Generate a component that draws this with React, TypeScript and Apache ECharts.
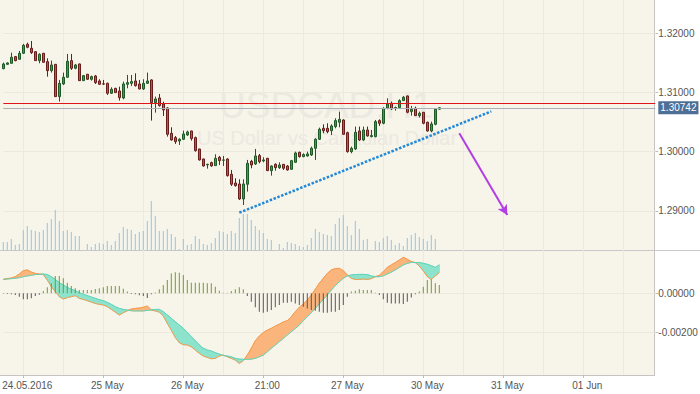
import React, { useEffect, useRef } from "react";
import * as echarts from "echarts";

// ---- data ----
const opens = [
  1.31403, 1.31476, 1.31493, 1.31606, 1.31561, 1.31662, 1.31814, 1.31747, 1.3169, 1.31538,
  1.31662, 1.31521, 1.31369, 1.31476, 1.3093, 1.31144, 1.31257, 1.31538, 1.31409, 1.31482,
  1.312, 1.31308, 1.31223, 1.31279, 1.31195, 1.31146, 1.31155, 1.30987, 1.31071, 1.31026,
  1.30907, 1.31139, 1.31155, 1.31195, 1.31144, 1.3106, 1.31155, 1.31212, 1.30829, 1.30908,
  1.30806, 1.30739, 1.30311, 1.30238, 1.30181, 1.3021, 1.30283, 1.3035, 1.30238, 1.30046,
  1.29878, 1.29778, 1.29816, 1.29765, 1.29906, 1.29855, 1.29877, 1.29619, 1.29472, 1.29455,
  1.29202, 1.2945, 1.29838, 1.29793, 1.29934, 1.29844, 1.29889, 1.2968, 1.29787, 1.29731,
  1.29787, 1.29759, 1.29703, 1.29821, 1.2999, 1.29917, 1.29928, 1.29945, 1.30058, 1.3021,
  1.30395, 1.30395, 1.30356, 1.30424, 1.30497, 1.30536, 1.30322, 1.30001, 1.30046, 1.3035,
  1.30198, 1.30367, 1.30255, 1.30255, 1.30525, 1.3048, 1.30733, 1.30818, 1.30733, 1.30745,
  1.30863, 1.30942, 1.30677, 1.30733, 1.30609, 1.30666, 1.30497, 1.3035, 1.30463, 1.30718,
];
const closes = [
  1.31482, 1.31499, 1.31595, 1.31538, 1.31662, 1.31797, 1.31764, 1.31673, 1.31538, 1.31645,
  1.3151, 1.31369, 1.31465, 1.3093, 1.31155, 1.31257, 1.31527, 1.31409, 1.31465, 1.312,
  1.31285, 1.31223, 1.31268, 1.31167, 1.31139, 1.31142, 1.30987, 1.31054, 1.30998, 1.30913,
  1.31144, 1.31167, 1.31184, 1.31116, 1.3106, 1.31155, 1.31195, 1.30829, 1.30891, 1.30778,
  1.30705, 1.30294, 1.30198, 1.3017, 1.3021, 1.303, 1.30334, 1.30221, 1.30018, 1.29861,
  1.29759, 1.29788, 1.29759, 1.29889, 1.29849, 1.29861, 1.29596, 1.2945, 1.29427, 1.29202,
  1.29455, 1.29804, 1.29776, 1.29928, 1.29832, 1.29861, 1.2968, 1.29759, 1.29731, 1.29776,
  1.2972, 1.29692, 1.29849, 1.29979, 1.29917, 1.29951, 1.29962, 1.30058, 1.3021, 1.30379,
  1.30356, 1.30339, 1.30435, 1.30525, 1.30547, 1.30294, 1.30001, 1.30058, 1.30328, 1.30198,
  1.30367, 1.30266, 1.30272, 1.30508, 1.3048, 1.30733, 1.30806, 1.30722, 1.30745, 1.30863,
  1.30919, 1.30666, 1.30716, 1.30609, 1.30649, 1.3048, 1.3035, 1.30469, 1.30716, 1.30742,
];
const lows = [
  1.31392, 1.31465, 1.3149, 1.31527, 1.31555, 1.31651, 1.31747, 1.31651, 1.31532, 1.31493,
  1.31505, 1.31268, 1.31336, 1.30925, 1.30846, 1.31127, 1.31252, 1.31381, 1.31392, 1.31195,
  1.31195, 1.31212, 1.312, 1.31144, 1.31127, 1.31127, 1.30958, 1.30975, 1.30992, 1.30863,
  1.30885, 1.31071, 1.3111, 1.31099, 1.31055, 1.31043, 1.31144, 1.30525, 1.3066, 1.30761,
  1.30604, 1.30255, 1.30187, 1.30131, 1.30114, 1.30198, 1.30266, 1.30187, 1.30001, 1.2985,
  1.29748, 1.29714, 1.29748, 1.29759, 1.29776, 1.29759, 1.29579, 1.29421, 1.2941, 1.29185,
  1.291, 1.29326, 1.2972, 1.29776, 1.29804, 1.29821, 1.29675, 1.29596, 1.2968, 1.29709,
  1.29692, 1.2968, 1.29692, 1.29815, 1.299, 1.29906, 1.29917, 1.29928, 1.29861, 1.30198,
  1.30311, 1.30311, 1.30283, 1.30395, 1.30412, 1.30283, 1.29984, 1.29973, 1.30029, 1.30182,
  1.30182, 1.30255, 1.30243, 1.30243, 1.30435, 1.30463, 1.30716, 1.30705, 1.30694, 1.30733,
  1.30858, 1.30649, 1.30609, 1.30603, 1.30576, 1.30463, 1.30339, 1.30328, 1.30446, 1.30712,
];
const highs = [
  1.31505, 1.3151, 1.31673, 1.31617, 1.31702, 1.3182, 1.31842, 1.3187, 1.31695, 1.31662,
  1.31668, 1.31578, 1.31538, 1.3148, 1.31212, 1.31336, 1.31651, 1.31651, 1.31482, 1.31487,
  1.31296, 1.31313, 1.31285, 1.31296, 1.31223, 1.31212, 1.31167, 1.31088, 1.31077, 1.31099,
  1.31184, 1.31296, 1.31296, 1.31324, 1.31212, 1.31223, 1.31336, 1.31223, 1.3093, 1.30975,
  1.30846, 1.3075, 1.30412, 1.30266, 1.30227, 1.30356, 1.30356, 1.30356, 1.30255, 1.3005,
  1.29881, 1.29795, 1.29833, 1.29956, 1.29928, 1.29928, 1.29889, 1.29692, 1.29551, 1.29534,
  1.29534, 1.29861, 1.29861, 1.30046, 1.29962, 1.29906, 1.29894, 1.2977, 1.29804, 1.29821,
  1.29793, 1.29776, 1.29861, 1.30001, 1.30001, 1.29973, 1.30001, 1.30086, 1.30227, 1.30407,
  1.30463, 1.3048, 1.30463, 1.30564, 1.30677, 1.30547, 1.30339, 1.30086, 1.30424, 1.30424,
  1.30424, 1.30424, 1.30367, 1.30536, 1.30547, 1.3075, 1.30902, 1.30846, 1.30761, 1.30885,
  1.30942, 1.30947, 1.30773, 1.30761, 1.30677, 1.30671, 1.30508, 1.30508, 1.30733, 1.30752,
];
const volumes = [
  8, 8, 11, 5, 6, 20, 24, 20, 19, 18,
  20, 27, 31, 40, 29, 19, 20, 18, 14, 14,
  0, 6, 3, 6, 7, 6, 9, 5, 9, 17,
  23, 21, 20, 16, 18, 19, 29, 49, 34, 19,
  19, 21, 16, 13, 1, 11, 5, 6, 14, 11,
  6, 5, 7, 12, 19, 18, 16, 19, 17, 32,
  36, 36, 30, 24, 20, 17, 11, 10, 0, 6,
  2, 8, 7, 6, 4, 3, 5, 12, 21, 18,
  16, 15, 14, 26, 32, 35, 24, 15, 29, 21,
  10, 11, 0, 9, 8, 12, 14, 10, 5, 7,
  4, 12, 15, 17, 13, 11, 9, 15, 11, 0,
];
const histogram = [
  -0.00002, -0.00003, -0.00005, -0.00009, -0.00017, -0.00031, -0.00031, -0.00026, -0.00014, -0.00007,
  0.00012, 0.00031, 0.00052, 0.0009, 0.0009, 0.00078, 0.00055, 0.00038, 0.00026, 0.00017,
  0.00017, 0.00017, 0.00017, 0.00022, 0.00026, 0.00031, 0.00038, 0.00038, 0.00038, 0.00038,
  0.00024, 0.00009, -0.00003, -0.00005, -0.0001, -0.00014, -0.00024, -0.00005, 0.00005, 0.00021,
  0.00043, 0.00069, 0.00103, 0.00109, 0.00107, 0.00095, 0.00069, 0.00055, 0.00055, 0.00055,
  0.00055, 0.00052, 0.00052, 0.00034, 0.00014, 0.00003, 0.00003, 0.00012, 0.00021, 0.00031,
  0.00021, -0.00014, -0.00043, -0.00072, -0.00095, -0.001, -0.00095, -0.00086, -0.00072, -0.0006,
  -0.00048, -0.00048, -0.00043, -0.00052, -0.0006, -0.00069, -0.00078, -0.00086, -0.0009, -0.00095,
  -0.001, -0.001, -0.00095, -0.00095, -0.00086, -0.0006, -0.00017, 0.00009, 0.00014, 0.00021,
  0.00017, 0.00017, 0.00017, 0.00003, -0.00009, -0.00031, -0.00048, -0.00052, -0.00052, -0.00052,
  -0.00055, -0.00043, -0.00021, -0.00005, 0.00009, 0.00034, 0.00069, 0.00072, 0.00052, 0.00043,
];
const fastLine = [
  0.00072, 0.00076, 0.00079, 0.00086, 0.001, 0.00117, 0.00121, 0.0011, 0.00103, 0.001,
  0.00097, 0.00069, 0.00035, 0.00009, -0.00017, -0.00029, -0.00022, -0.00017, -0.00012, -0.00026,
  -0.00031, -0.00038, -0.00045, -0.00052, -0.00057, -0.0006, -0.00069, -0.00083, -0.00097, -0.00112,
  -0.001, -0.0009, -0.00081, -0.00078, -0.00076, -0.00072, -0.00066, -0.00086, -0.00091, -0.00097,
  -0.00117, -0.00155, -0.0019, -0.00228, -0.00255, -0.00265, -0.00267, -0.00276, -0.00293, -0.0031,
  -0.00324, -0.00331, -0.00338, -0.00336, -0.00324, -0.00319, -0.00328, -0.00336, -0.00345, -0.00362,
  -0.00348, -0.00319, -0.00284, -0.00245, -0.00221, -0.00203, -0.0019, -0.00181, -0.00169, -0.00159,
  -0.00148, -0.00141, -0.00121, -0.00095, -0.00072, -0.00055, -0.00035, -0.00009, 0.00021, 0.00052,
  0.00078, 0.00103, 0.00121, 0.00128, 0.00129, 0.00117, 0.00095, 0.00078, 0.00072, 0.00072,
  0.00074, 0.00072, 0.00076, 0.00086, 0.00093, 0.00112, 0.00134, 0.00147, 0.00159, 0.00172,
  0.00186, 0.00176, 0.00164, 0.00159, 0.00141, 0.00117, 0.00086, 0.00072, 0.0009, 0.00107,
];
const slowLine = [
  0.00072, 0.00074, 0.00076, 0.00078, 0.00081, 0.00086, 0.0009, 0.00093, 0.00097, 0.00098,
  0.001, 0.00097, 0.00086, 0.00072, 0.00055, 0.00043, 0.00031, 0.00021, 0.00014, 0.00003,
  -0.00005, -0.00012, -0.00019, -0.00026, -0.00033, -0.00038, -0.00047, -0.00057, -0.00069, -0.00078,
  -0.00083, -0.00086, -0.0009, -0.00091, -0.00091, -0.00091, -0.00088, -0.00086, -0.00083, -0.00083,
  -0.00095, -0.00112, -0.00129, -0.00147, -0.00164, -0.00181, -0.00203, -0.00224, -0.00245, -0.00267,
  -0.00284, -0.00293, -0.00298, -0.00307, -0.00314, -0.00321, -0.00324, -0.00328, -0.00336, -0.0034,
  -0.00341, -0.00341, -0.0034, -0.00336, -0.00328, -0.00319, -0.00302, -0.00284, -0.00267, -0.0025,
  -0.00233, -0.00215, -0.00198, -0.00181, -0.00164, -0.00141, -0.00121, -0.001, -0.00078, -0.00055,
  -0.00031, -0.00009, 0.00017, 0.0004, 0.0006, 0.00078, 0.0009, 0.00095, 0.00097, 0.00098,
  0.00098, 0.00097, 0.0009, 0.00086, 0.00086, 0.00091, 0.001, 0.0011, 0.00121, 0.00134,
  0.00147, 0.00155, 0.0016, 0.00159, 0.00159, 0.00155, 0.0015, 0.00143, 0.00134, 0.00147,
];
const tickIndex = [5, 25, 45, 65, 85, 105, 125, 145];
const tickLabels = ["24.05.2016", "25 May", "26 May", "21:00", "27 May", "30 May", "31 May", "01 Jun"];
const priceTicks = [1.29, 1.3, 1.31, 1.32];
const oscTicks = [0, -0.002];
const currentPrice = 1.30742;
const askPrice = 1.30825;
const trendFrom = [59, 1.2897];
const trendTo = [122, 1.30682];
const arrowFrom = [114, 1.30311];
const arrowTo = [126, 1.28931];
const SLOTS = 164;

// ---- styling ----
const FONT = "'Liberation Sans', Arial, sans-serif";
const CREAM = "#f7f4ea";
const GRIDC = "#ece9df";
const LABEL = "#555555";
const ORANGE_FILL = "#fab57c";
const TEAL_FILL = "#8de3cc";

export default function App() {
  const ref = useRef<HTMLDivElement>(null);

  useEffect(() => {
    if (!ref.current) return;
    const chart = echarts.init(ref.current, null, { renderer: "svg", width: 700, height: 394 });
    const xData = Array.from({ length: SLOTS }, (_, i) => String(i));
    const candleData = opens.map((o, i) => [o, closes[i], lows[i], highs[i]]);
    const fillData = fastLine.slice(0, -1).map((v, i) => [i, v, slowLine[i]]);
    const histData = histogram.map((v) => ({
      value: v,
      itemStyle: { color: v >= 0 ? "#6f9b2c" : "#5a5557" },
    }));

    const renderFill = (params: any, api: any) => {
      const i = api.value(0);
      const n = fastLine.length;
      if (i >= n - 1) return null;
      const a0 = api.coord([i, fastLine[i]]);
      const b0 = api.coord([i, slowLine[i]]);
      const a1 = api.coord([i + 1, fastLine[i + 1]]);
      const b1 = api.coord([i + 1, slowLine[i + 1]]);
      const d0 = fastLine[i] - slowLine[i];
      const d1 = fastLine[i + 1] - slowLine[i + 1];
      const col = (d: number) => (d >= 0 ? ORANGE_FILL : TEAL_FILL);
      const poly = (pts: number[][], c: string) => ({
        type: "polygon",
        shape: { points: pts },
        style: { fill: c, stroke: c, lineWidth: 1, lineJoin: "round" },
      });
      if (d0 * d1 < 0) {
        const t = d0 / (d0 - d1);
        const m = [a0[0] + (a1[0] - a0[0]) * t, a0[1] + (a1[1] - a0[1]) * t];
        return {
          type: "group",
          children: [poly([a0, m, b0], col(d0)), poly([m, a1, b1], col(d1))],
        };
      }
      return { type: "group", children: [poly([a0, a1, b1, b0], col(d0 + d1))] };
    };

    const axisLabelBase = { color: LABEL, fontSize: 10, fontFamily: FONT };
    const gridMarkLine = (values: number[]) => ({
      silent: true,
      z: 0,
      precision: 5,
      symbol: ["none", "none"],
      label: { show: false },
      lineStyle: { color: GRIDC, type: "solid", width: 1 },
      data: values.map((v) => ({ yAxis: v })),
    });

    chart.setOption({
      animation: false,
      backgroundColor: "transparent",
      grid: [
        { left: 3.3, right: 44.7, top: 0, height: 250, containLabel: false, outerBoundsMode: "none" },
        { left: 3.3, right: 44.7, top: 250, height: 125, containLabel: false, outerBoundsMode: "none" },
      ],
      xAxis: [
        {
          type: "category",
          gridIndex: 0,
          data: xData,
          boundaryGap: false,
          axisLine: { show: false, onZero: false },
          axisTick: { show: false },
          axisLabel: { show: false },
          splitLine: { show: true, interval: (i: number) => i % 10 === 5, lineStyle: { color: GRIDC, width: 1 } },
        },
        {
          type: "category",
          gridIndex: 1,
          data: xData,
          boundaryGap: false,
          position: "bottom",
          axisLine: { show: false, onZero: false },
          axisTick: {
            show: true,
            interval: (i: number) => tickIndex.includes(i),
            length: 3,
            lineStyle: { color: "#bdbdbd" },
          },
          axisLabel: {
            ...axisLabelBase,
            interval: (i: number) => tickIndex.includes(i),
            formatter: (v: string) => tickLabels[tickIndex.indexOf(Number(v))] ?? "",
            margin: 5,
            padding: [0, 0, 0, 8],
          },
          splitLine: { show: true, interval: (i: number) => i % 10 === 5, lineStyle: { color: GRIDC, width: 1 } },
        },
      ],
      yAxis: [
        {
          type: "value",
          gridIndex: 0,
          position: "right",
          min: 1.2834,
          max: 1.32562,
          axisLine: { show: false },
          axisTick: { show: true, customValues: priceTicks, length: 3, lineStyle: { color: "#bdbdbd" } },
          axisLabel: { ...axisLabelBase, customValues: priceTicks, formatter: (v: number) => v.toFixed(5), margin: 3 },
          splitLine: { show: false },
        },
        { type: "value", gridIndex: 0, min: 0, max: 250, show: false, splitLine: { show: false } },
        {
          type: "value",
          gridIndex: 1,
          position: "right",
          min: -0.00422,
          max: 0.00224,
          axisLine: { show: false },
          axisTick: { show: true, customValues: oscTicks, length: 3, lineStyle: { color: "#bdbdbd" } },
          axisLabel: { ...axisLabelBase, customValues: oscTicks, formatter: (v: number) => v.toFixed(5), margin: 3 },
          splitLine: { show: false },
        },
      ],
      graphic: [
        {
          type: "text",
          x: 326,
          y: 105,
          silent: true,
          z: 0,
          style: {
            text: "USDCAD,H1",
            fontSize: 37,
            fontFamily: FONT,
            fill: "#ebe9e0",
            align: "center",
            verticalAlign: "middle",
            textAlign: "center",
            textVerticalAlign: "middle",
          },
        },
        {
          type: "text",
          x: 327,
          y: 137.5,
          silent: true,
          z: 0,
          style: {
            text: "US Dollar vs Canadian Dollar",
            fontSize: 20,
            fontFamily: FONT,
            fill: "#ebe9e0",
            align: "center",
            verticalAlign: "middle",
            textAlign: "center",
            textVerticalAlign: "middle",
          },
        },
      ],
      series: [
        {
          name: "priceGrid",
          type: "line",
          xAxisIndex: 0,
          yAxisIndex: 0,
          data: [],
          silent: true,
          z: 1,
          markLine: gridMarkLine(priceTicks),
        },
        {
          name: "oscGrid",
          type: "line",
          xAxisIndex: 1,
          yAxisIndex: 2,
          data: [],
          silent: true,
          z: 1,
          markLine: gridMarkLine(oscTicks),
        },
        {
          name: "volume",
          type: "bar",
          xAxisIndex: 0,
          yAxisIndex: 1,
          data: volumes,
          barWidth: 1,
          silent: true,
          itemStyle: { color: "#92c5e6" },
          z: 2,
        },
        {
          name: "USDCAD",
          type: "candlestick",
          xAxisIndex: 0,
          yAxisIndex: 0,
          data: candleData,
          barWidth: 3,
          silent: true,
          z: 3,
          itemStyle: {
            color: "#3e9b4a",
            color0: "#c0524c",
            borderColor: "#1d5a25",
            borderColor0: "#6a1e1c",
            borderWidth: 1,
          },
          markLine: {
            silent: true,
            precision: 5,
            symbol: ["none", "none"],
            label: { show: false },
            data: [
              { yAxis: askPrice, lineStyle: { color: "#e0161b", width: 1, type: "solid" } },
              {
                yAxis: currentPrice,
                lineStyle: { color: "#a7afb7", width: 1, type: "solid" },
                label: {
                  show: true,
                  position: "end",
                  formatter: currentPrice.toFixed(5),
                  color: "#ffffff",
                  backgroundColor: "#4d6f96",
                  padding: [2, 2, 1, 2],
                  fontSize: 10,
                  fontFamily: FONT,
                  distance: 3,
                },
              },
              [
                { coord: trendFrom, symbol: "none" },
                {
                  coord: trendTo,
                  symbol: "none",
                  lineStyle: { color: "#2389d6", width: 2.5, type: [2.5, 1.6] },
                },
              ],
              [
                { coord: arrowFrom, symbol: "none" },
                {
                  coord: arrowTo,
                  symbol: "arrow",
                  symbolSize: [8, 10],
                  lineStyle: { color: "#b23ee4", width: 2, type: "solid" },
                },
              ],
            ],
          },
        },
        {
          name: "fill",
          type: "custom",
          xAxisIndex: 1,
          yAxisIndex: 2,
          data: fillData,
          encode: { x: 0, y: [1, 2] },
          renderItem: renderFill,
          silent: true,
          z: 2,
        },
        {
          name: "fast",
          type: "line",
          xAxisIndex: 1,
          yAxisIndex: 2,
          data: fastLine,
          showSymbol: false,
          silent: true,
          lineStyle: { color: "#f39b4e", width: 1 },
          z: 3,
        },
        {
          name: "slow",
          type: "line",
          xAxisIndex: 1,
          yAxisIndex: 2,
          data: slowLine,
          showSymbol: false,
          silent: true,
          lineStyle: { color: "#62d3b9", width: 1 },
          z: 3,
        },
        {
          name: "histogram",
          type: "bar",
          xAxisIndex: 1,
          yAxisIndex: 2,
          data: histData,
          barWidth: 1,
          silent: true,
          z: 4,
        },
      ],
    });
    return () => chart.dispose();
  }, []);

  return (
    <div
      style={{
        position: "fixed",
        left: 0,
        top: 0,
        width: 700,
        height: 394,
        background: "#ffffff",
        overflow: "hidden",
      }}
    >
      <div
        style={{
          position: "absolute",
          left: 0,
          top: 0,
          width: 655,
          height: 376,
          boxSizing: "border-box",
          background: CREAM,
          borderRight: "1px solid #c4c4c4",
          borderBottom: "1px solid #c4c4c4",
        }}
      />
      <div style={{ position: "absolute", left: 0, top: 250, width: 700, height: 1, background: "#c8c8c8" }} />
      <div ref={ref} style={{ position: "absolute", left: 0, top: 0, width: 700, height: 394 }} />
    </div>
  );
}
